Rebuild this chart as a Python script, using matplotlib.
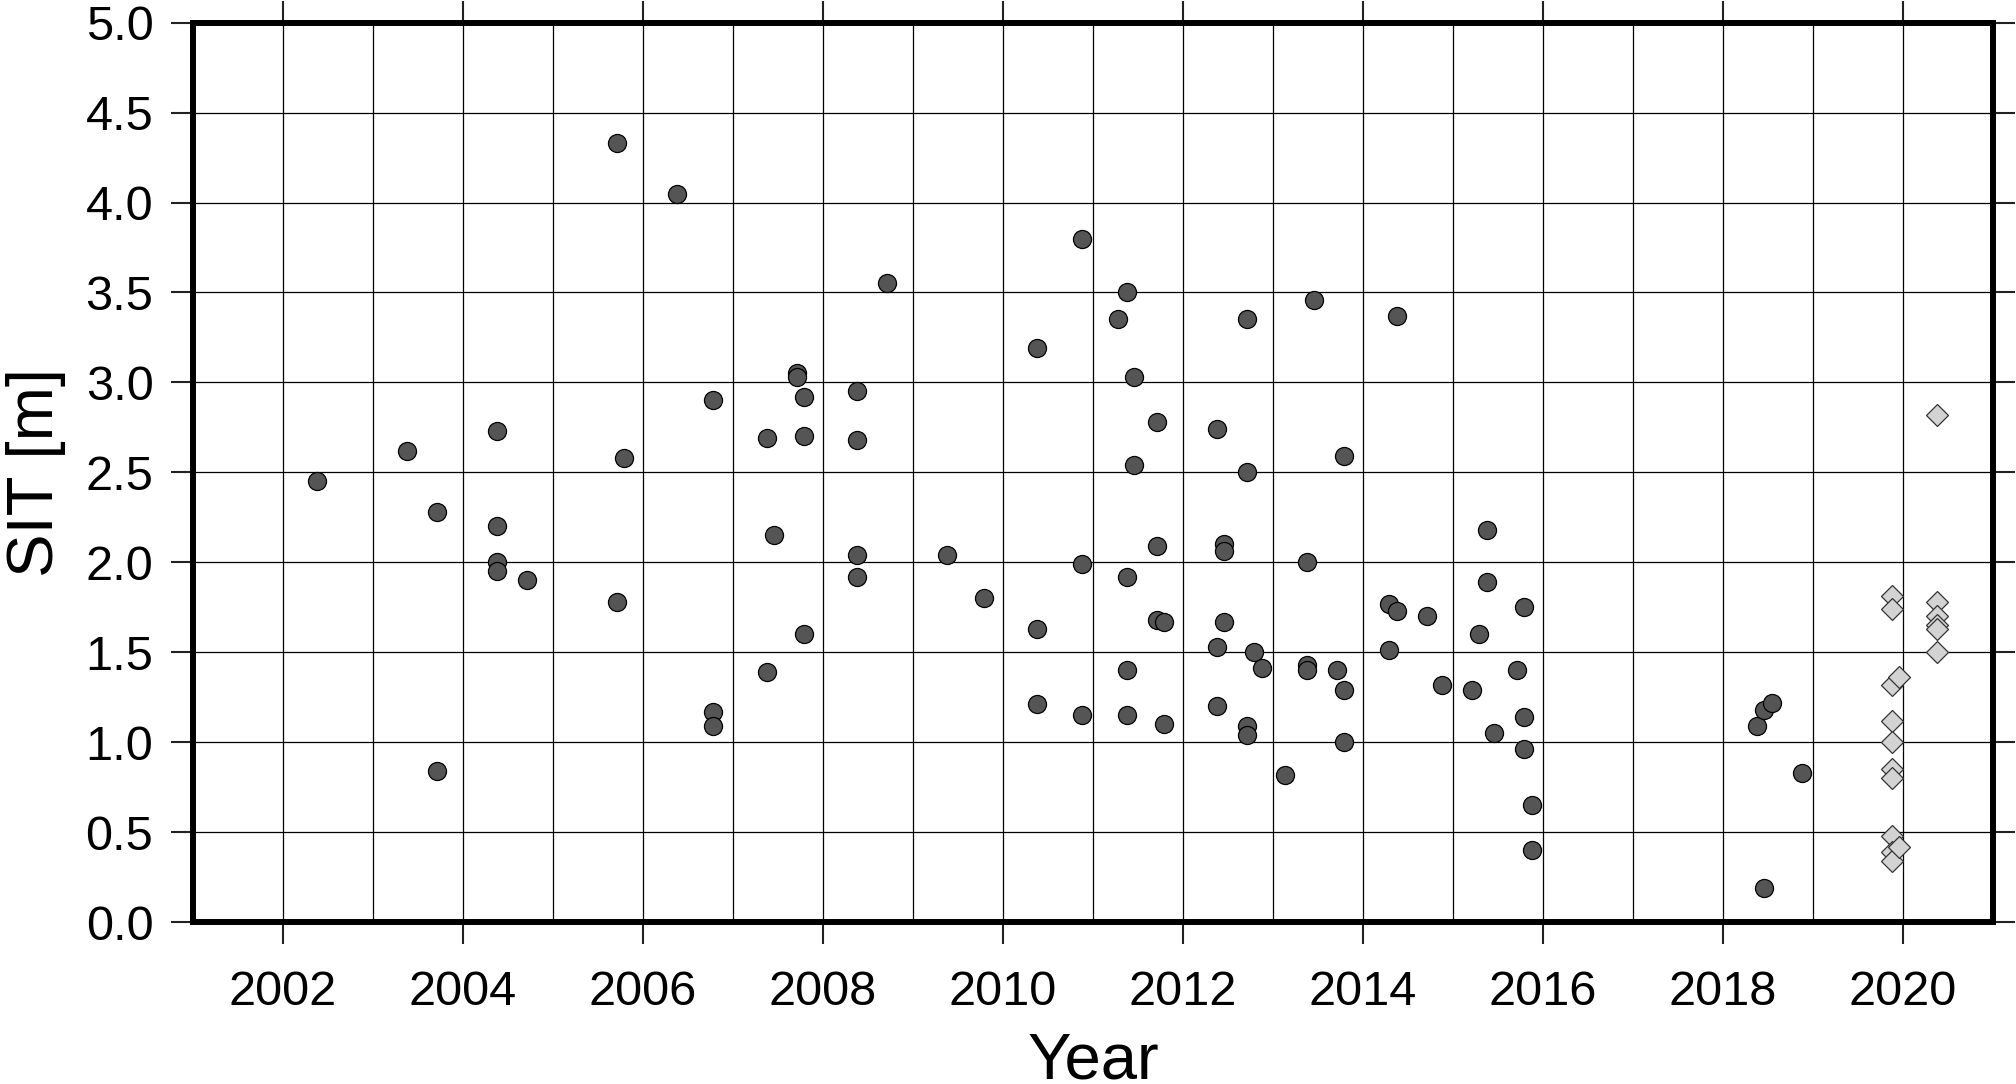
import matplotlib
matplotlib.use("Agg")
import matplotlib.pyplot as plt
from matplotlib.ticker import MultipleLocator

plt.rcParams['font.family'] = ['Liberation Sans', 'DejaVu Sans']

# dark circles: year (decimal) and SIT [m]
circle_year = [2002.38, 2003.38, 2003.71, 2003.71, 2004.38, 2004.38, 2004.38, 2004.38,
               2004.71, 2005.71, 2005.71, 2005.79, 2006.38, 2006.78, 2006.78, 2006.78,
               2007.38, 2007.38, 2007.46, 2007.71, 2007.71, 2007.79, 2007.79, 2007.79,
               2008.38, 2008.38, 2008.38, 2008.38, 2008.71, 2009.38, 2009.79,
               2010.38, 2010.38, 2010.38, 2010.88, 2010.88, 2010.88,
               2011.28, 2011.38, 2011.38, 2011.38, 2011.38, 2011.46, 2011.46,
               2011.71, 2011.71, 2011.71, 2011.79, 2011.79,
               2012.38, 2012.38, 2012.38, 2012.46, 2012.46, 2012.46,
               2012.71, 2012.71, 2012.71, 2012.71, 2012.79, 2012.88, 2013.13,
               2013.38, 2013.38, 2013.38, 2013.46, 2013.71, 2013.79, 2013.79, 2013.79,
               2014.29, 2014.29, 2014.38, 2014.38, 2014.71, 2014.88,
               2015.21, 2015.29, 2015.38, 2015.38, 2015.46, 2015.71,
               2015.79, 2015.79, 2015.79, 2015.88, 2015.88,
               2018.38, 2018.46, 2018.54, 2018.46, 2018.88]
circle_sit = [2.45, 2.62, 2.28, 0.84, 2.73, 2.20, 2.00, 1.95,
              1.90, 4.33, 1.78, 2.58, 4.05, 2.90, 1.17, 1.09,
              2.69, 1.39, 2.15, 3.05, 3.03, 2.92, 2.70, 1.60,
              2.95, 2.68, 2.04, 1.92, 3.55, 2.04, 1.80,
              3.19, 1.63, 1.21, 3.80, 1.99, 1.15,
              3.35, 3.50, 1.92, 1.40, 1.15, 3.03, 2.54,
              2.78, 2.09, 1.68, 1.67, 1.10,
              2.74, 1.53, 1.20, 2.10, 2.06, 1.67,
              3.35, 2.50, 1.09, 1.04, 1.50, 1.41, 0.82,
              2.00, 1.43, 1.40, 3.46, 1.40, 2.59, 1.29, 1.00,
              1.77, 1.51, 3.37, 1.73, 1.70, 1.32,
              1.29, 1.60, 2.18, 1.89, 1.05, 1.40,
              1.75, 1.14, 0.96, 0.65, 0.40,
              1.09, 1.18, 1.22, 0.19, 0.83]

# light diamonds
diamond_year = [2019.88, 2019.88, 2019.88, 2019.88, 2019.88, 2019.88, 2019.88,
                2019.88, 2019.88, 2019.88, 2019.96, 2019.96,
                2020.38, 2020.38, 2020.38, 2020.38, 2020.38, 2020.38]
diamond_sit = [1.81, 1.74, 1.32, 1.12, 1.00, 0.85, 0.80, 0.48, 0.39, 0.34, 1.36, 0.42,
               2.82, 1.78, 1.70, 1.65, 1.63, 1.50]

fig = plt.figure(figsize=(20.16, 10.84), dpi=100)
ax = fig.add_axes([0.0957, 0.1494, 0.8929, 0.8297])

ax.plot(circle_year, circle_sit, 'o', ms=13, mfc='#555555', mec='black', mew=0.9,
        zorder=3, clip_on=False)
ax.plot(diamond_year, diamond_sit, 'D', ms=11.5, mfc='#d3d3d3', mec='#333333', mew=0.9,
        zorder=4, clip_on=False)

ax.set_xlim(2001, 2021)
ax.set_ylim(0, 5)
ax.xaxis.set_major_locator(MultipleLocator(2))
ax.xaxis.set_minor_locator(MultipleLocator(1))
ax.yaxis.set_major_locator(MultipleLocator(0.5))
ax.yaxis.set_major_formatter(plt.FormatStrFormatter('%.1f'))

ax.grid(True, which='both', axis='x', color='black', lw=0.9)
ax.grid(True, which='major', axis='y', color='black', lw=0.9)
ax.set_axisbelow(True)
ax.tick_params(which='minor', length=0)
ax.tick_params(which='major', direction='out', length=15.5, width=1.5,
               top=True, right=True, labelsize=35, color='#222222')
ax.tick_params(axis='x', pad=19)
ax.tick_params(axis='y', pad=13)

for s in ax.spines.values():
    s.set_linewidth(4.3)
    s.set_zorder(5)

ax.set_xlabel('Year', fontsize=47)
ax.set_ylabel('SIT [m]', fontsize=47)
ax.xaxis.set_label_coords(0.5, -0.122)
ax.yaxis.set_label_coords(-0.087, 0.5)
ax.yaxis.label.set_va('center')

fig.savefig('out.png', dpi=100)
